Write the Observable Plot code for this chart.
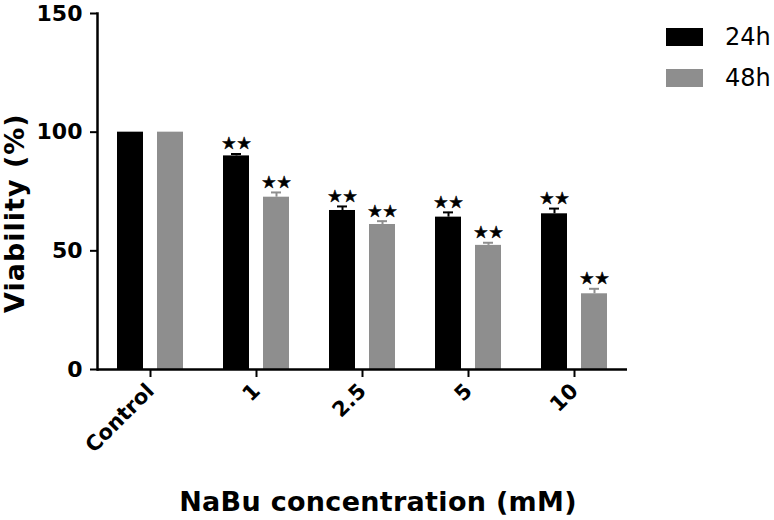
<!DOCTYPE html>
<html><head><meta charset="utf-8">
<script src="https://cdn.jsdelivr.net/npm/d3@7"></script>
<script src="https://cdn.jsdelivr.net/npm/@observablehq/plot@0.6"></script>
<style>
body{margin:0;background:#fff}
#wrap{position:relative;width:774px;height:520px;font-family:"DejaVu Sans",sans-serif;overflow:hidden}
#wrap svg{position:absolute;left:0;top:0}
.lg{position:absolute;left:666px;width:37px;height:18px}
.lt{position:absolute;left:725px;font-size:24px;line-height:24px}
#xt{position:absolute;left:0;width:756px;text-align:center;top:486px;font-size:27px;font-weight:bold;letter-spacing:0.3px}
#yt{position:absolute;font-size:27px;font-weight:bold;white-space:nowrap;transform-origin:0 0;transform:rotate(-90deg);left:1px;top:313px;letter-spacing:1px;line-height:27px}
</style>
</head><body><div id="wrap"></div>
<script>
const groups = ["Control", "1", "2.5", "5", "10"];
const series = ["24h", "48h"];
const v24 = [100, 90, 67, 64.2, 65.6];
const v48 = [100, 72.6, 61.1, 52.3, 31.9];
const e24 = [0, 0.8, 1.7, 2.0, 2.2];
const e48 = [0, 2.0, 1.4, 1.1, 2.1];
const sig24 = ["", "★★", "★★", "★★", "★★"];
const sig48 = ["", "★★", "★★", "★★", "★★"];
const yTicks = [0, 50, 100, 150];
const colors = ["#000000", "#8e8e8e"];
const xTitle = "NaBu concentration (mM)";
const yTitle = "Viability (%)";

const rows = [];
groups.forEach((g, i) => {
  rows.push({group: g, series: series[0], value: v24[i], err: e24[i], sig: sig24[i]});
  rows.push({group: g, series: series[1], value: v48[i], err: e48[i], sig: sig48[i]});
});
const errRows = rows.filter(d => d.err > 0);

const chart = Plot.plot({
  width: 774, height: 520,
  marginLeft: 95, marginRight: 146, marginTop: 13, marginBottom: 151,
  style: {fontFamily: "DejaVu Sans", fontWeight: "bold", background: "transparent", color: "#000"},
  fx: {domain: groups, padding: 0, label: null},
  x: {domain: series, paddingInner: 0.35, paddingOuter: 0.48, axis: null},
  y: {domain: [0, 150], label: null},
  color: {domain: series, range: colors},
  marks: [
    Plot.barY(rows, {fx: "group", x: "series", y: "value", fill: "series"}),
    Plot.ruleX(errRows, {fx: "group", x: "series", y1: "value", y2: d => d.value + d.err, stroke: "series", strokeWidth: 2}),
    Plot.tickY(errRows, {fx: "group", x: "series", y: d => d.value + d.err, stroke: "series", strokeWidth: 2, insetLeft: 8, insetRight: 8}),
    Plot.text(rows, {fx: "group", x: "series", y: d => d.value + d.err, text: "sig", dy: -10, fontSize: 17, fontWeight: "normal", fill: "#000", stroke: "#000", strokeWidth: 0.5}),
    Plot.ruleY([0], {strokeWidth: 2.5}),
    Plot.frame({anchor: "left", facetAnchor: "left", strokeWidth: 2.5}),
    Plot.axisY({ticks: yTicks, tickSize: 7, tickPadding: 8, fontSize: 22, strokeWidth: 2, label: null}),
    Plot.axisFx({anchor: "bottom", tickRotate: -45, tickSize: 8, tickPadding: 10, fontSize: 21, strokeWidth: 2, label: null})
  ]
});

const wrap = document.getElementById("wrap");
wrap.appendChild(chart);
series.forEach((s, i) => {
  const r = document.createElement("div");
  r.className = "lg"; r.style.top = (28 + i * 41) + "px"; r.style.background = colors[i];
  wrap.appendChild(r);
  const t = document.createElement("div");
  t.className = "lt"; t.style.top = (25 + i * 41) + "px"; t.textContent = s;
  wrap.appendChild(t);
});
const xt = document.createElement("div"); xt.id = "xt"; xt.textContent = xTitle; wrap.appendChild(xt);
const yt = document.createElement("div"); yt.id = "yt"; yt.textContent = yTitle; wrap.appendChild(yt);
</script>
</body></html>
